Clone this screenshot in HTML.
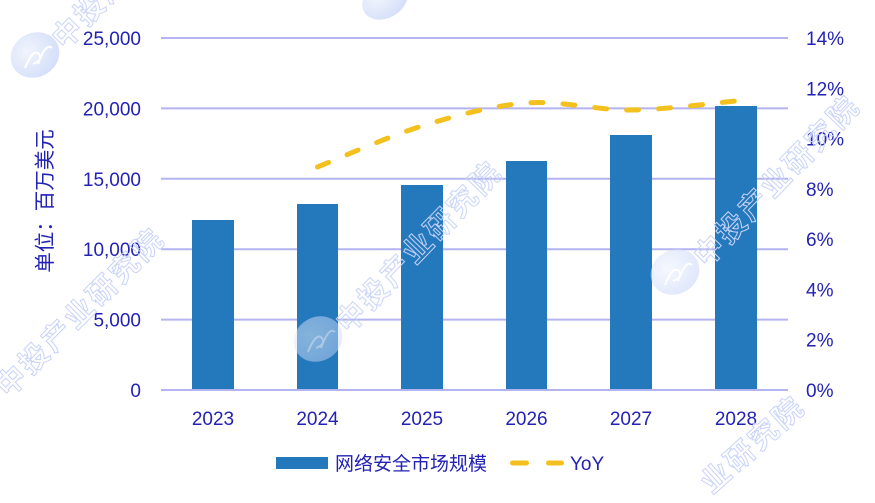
<!DOCTYPE html>
<html>
<head>
<meta charset="utf-8">
<style>
  html,body{margin:0;padding:0;background:#ffffff;}
  body{width:875px;height:503px;overflow:hidden;}
  svg{display:block;}
  svg text{font-family:"Liberation Sans","Noto Sans CJK SC",sans-serif;}
</style>
</head>
<body>
<svg width="875" height="503" viewBox="0 0 875 503" xmlns="http://www.w3.org/2000/svg" overflow="hidden">
  <defs>
    <radialGradient id="lg" cx="40%" cy="35%" r="70%">
      <stop offset="0" stop-color="#eef2fd"/>
      <stop offset="1" stop-color="#c9d6f8"/>
    </radialGradient>
    <clipPath id="frame"><rect x="0" y="0" width="875" height="503"/></clipPath>
  </defs>
  <rect width="875" height="503" fill="#ffffff"/>

  <!-- gridlines -->
  <g stroke="#b4b4f0" stroke-width="2">
    <line x1="161" y1="38" x2="788" y2="38"/>
    <line x1="161" y1="108.4" x2="788" y2="108.4"/>
    <line x1="161" y1="178.8" x2="788" y2="178.8"/>
    <line x1="161" y1="249.2" x2="788" y2="249.2"/>
    <line x1="161" y1="319.6" x2="788" y2="319.6"/>
  </g>

  <!-- bars -->
  <g fill="#2479bd">
    <rect x="192" y="220" width="42" height="170"/>
    <rect x="297" y="204" width="41" height="186"/>
    <rect x="401" y="185" width="42" height="205"/>
    <rect x="506" y="161" width="41" height="229"/>
    <rect x="610" y="135" width="42" height="255"/>
    <rect x="715" y="106" width="42" height="284"/>
  </g>
  <line x1="161" y1="390" x2="788" y2="390" stroke="#b4b4f0" stroke-width="2"/>

  <!-- YoY line -->
  <path d="M317.5,167 C334.9,160.2 387.2,136.7 422,126 C456.8,115.3 491.7,105.7 526.5,103 C561.3,100.3 596.1,110.3 631,110 C665.9,109.7 718.5,102.5 736,101"
        fill="none" stroke="#f4c01e" stroke-width="5" stroke-linecap="round" stroke-dasharray="12 20"/>

  <!-- left ticks -->
  <g fill="#2222b5" font-size="19" text-anchor="end">
    <text x="141" y="45">25,000</text>
    <text x="141" y="115.4">20,000</text>
    <text x="141" y="185.8">15,000</text>
    <text x="141" y="256.2">10,000</text>
    <text x="141" y="326.6">5,000</text>
    <text x="141" y="397">0</text>
  </g>

  <!-- right ticks -->
  <g fill="#2222b5" font-size="19" text-anchor="start">
    <text x="806" y="45">14%</text>
    <text x="806" y="95.3">12%</text>
    <text x="806" y="145.6">10%</text>
    <text x="806" y="195.9">8%</text>
    <text x="806" y="246.1">6%</text>
    <text x="806" y="296.4">4%</text>
    <text x="806" y="346.7">2%</text>
    <text x="806" y="397">0%</text>
  </g>

  <!-- x labels -->
  <g fill="#2222b5" font-size="19" text-anchor="middle">
    <text x="213" y="425">2023</text>
    <text x="317.5" y="425">2024</text>
    <text x="422" y="425">2025</text>
    <text x="526.5" y="425">2026</text>
    <text x="631" y="425">2027</text>
    <text x="736" y="425">2028</text>
  </g>

  <!-- y title -->
  <text transform="translate(52,201) rotate(-90)" fill="#2222b5" font-size="20.5" text-anchor="middle"
        style="font-family:'Noto Sans CJK SC',sans-serif">单位：百万美元</text>

  <!-- legend -->
  <rect x="276" y="457" width="52" height="12" fill="#2479bd"/>
  <text x="335" y="470" fill="#2222b5" font-size="19" style="font-family:'Noto Sans CJK SC',sans-serif">网络安全市场规模</text>
  <g stroke="#f4c01e" stroke-width="5" stroke-linecap="round">
    <line x1="512.5" y1="463" x2="526.5" y2="463"/>
    <line x1="548.5" y1="463" x2="561.5" y2="463"/>
  </g>
  <text x="570" y="470" fill="#2222b5" font-size="19">YoY</text>

  <!-- watermarks -->
  <g clip-path="url(#frame)">
    <g opacity="0.8">
      <ellipse cx="35" cy="55" rx="25" ry="22" fill="url(#lg)" transform="rotate(-30 35 55)"/>
      <path d="M25,68 q8,-20 14,-14 q4,6 -6,10 M38,64 q8,-22 14,-16" fill="none" stroke="#ffffff" stroke-width="2"/>
      <ellipse cx="318" cy="339" rx="25" ry="22" fill="url(#lg)" opacity="0.6" transform="rotate(-30 318 339)"/>
      <path d="M308,352 q8,-20 14,-14 q4,6 -6,10 M321,348 q8,-22 14,-16" fill="none" stroke="#ffffff" stroke-width="2" opacity="0.5"/>
      <ellipse cx="675" cy="272" rx="25" ry="22" fill="url(#lg)" opacity="0.75" transform="rotate(-30 675 272)"/>
      <path d="M665,285 q8,-20 14,-14 q4,6 -6,10 M678,281 q8,-22 14,-16" fill="none" stroke="#ffffff" stroke-width="2"/>
      <ellipse cx="385" cy="0" rx="24" ry="18" fill="url(#lg)" transform="rotate(-30 385 0)"/>
    </g>
    <g fill="none" stroke="#c9d3f7" stroke-width="1" font-size="29" font-weight="bold"
       style="font-family:'Noto Sans CJK SC',sans-serif" letter-spacing="3">
      <text transform="translate(2,392) rotate(-45)" dominant-baseline="central">中投产业研究院</text>
      <text transform="translate(342,328) rotate(-46)" dominant-baseline="central">中投产业研究院</text>
      <text transform="translate(700,262) rotate(-46)" dominant-baseline="central">中投产业研究院</text>
      <text transform="translate(58,44) rotate(-46)" dominant-baseline="central">中投产业研究院</text>
      <text transform="translate(706,488) rotate(-42)" dominant-baseline="central">业研究院</text>
    </g>
  </g>
</svg>
</body>
</html>
